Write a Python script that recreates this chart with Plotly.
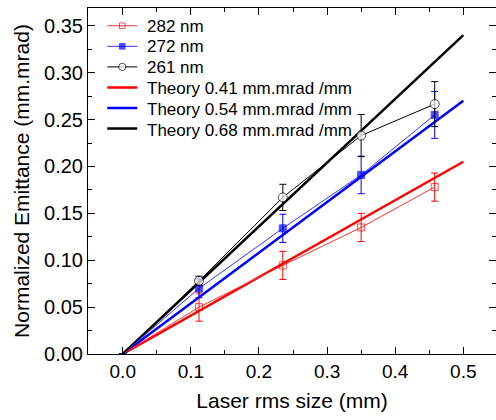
import plotly.graph_objects as go

x_pts = [0.112, 0.235, 0.350, 0.458]
y_282 = [0.050, 0.0945, 0.135, 0.178]
e_282 = [0.015, 0.015, 0.015, 0.015]
y_272 = [0.070, 0.134, 0.191, 0.255]
e_272 = [0.010, 0.015, 0.020, 0.025]
y_261 = [0.078, 0.167, 0.233, 0.2665]
e_261 = [0.005, 0.014, 0.0225, 0.024]

theory_x = [0.0, 0.5]
slopes = [0.41, 0.54, 0.68]
theory_names = ["Theory 0.41 mm.mrad /mm", "Theory 0.54 mm.mrad /mm", "Theory 0.68 mm.mrad /mm"]
theory_colors = ["#ff0000", "#0000ff", "#000000"]
series_names = ["282 nm", "272 nm", "261 nm"]

font = "Liberation Sans, Arial, sans-serif"
fig = go.Figure()

for i, (s, n, c) in enumerate(zip(slopes, theory_names, theory_colors)):
    fig.add_trace(go.Scatter(
        x=theory_x, y=[s * v for v in theory_x], mode="lines", name=" ",
        hovertext=n, line=dict(color=c, width=2.5), legendrank=10 + i))

series = [
    (y_282, e_282, "#ff0000", "square-open", 7, "#ff3333"),
    (y_272, e_272, "#0000ff", "square", 7, "#3333ff"),
    (y_261, e_261, "#000000", "circle", 9, "#000000"),
]
for i, (y, e, c, sym, sz, lc) in enumerate(series):
    fig.add_trace(go.Scatter(
        x=[0.0] + x_pts, y=[0.0] + y, mode="lines+markers", name=" ",
        hovertext=series_names[i],
        line=dict(color=lc, width=1),
        marker=dict(symbol=sym, size=[0] + [sz] * len(x_pts), color=("white" if sym == "circle" else c),
                    line=dict(color=c, width=1)),
        error_y=dict(type="data", array=[0] + e, color=c, thickness=1, width=3.5),
        legendrank=i + 1))

# legend labels (text placed beside the legend samples)
legend_labels = series_names + theory_names
plot_h = 346
ann = []
for i, t in enumerate(legend_labels):
    ypix = 26 + 20.8 * i
    ann.append(dict(text=t, xref="paper", yref="paper", x=(145 - 88) / 408,
                    y=(354 - ypix) / plot_h, xanchor="left", yanchor="middle",
                    showarrow=False, font=dict(size=17, family=font, color="black")))

fig.update_layout(
    width=496, height=420,
    margin=dict(l=88, r=0, t=8, b=66),
    plot_bgcolor="white", paper_bgcolor="white",
    font=dict(family=font, color="black", size=19),
    showlegend=True,
    legend=dict(x=0.035, y=1.0 - 2.5 / 346, xanchor="left", yanchor="top",
                font=dict(size=13.5), bgcolor="rgba(0,0,0,0)", tracegroupgap=0),
    annotations=ann,
)
fig.update_xaxes(
    range=[-0.051, 0.548], tickvals=[0, 0.1, 0.2, 0.3, 0.4, 0.5],
    ticktext=["0.0", "0.1", "0.2", "0.3", "0.4", "0.5"],
    ticks="inside", ticklen=7, tickcolor="black", showline=True, linecolor="black",
    linewidth=1, mirror="allticks", showgrid=False, zeroline=False,
    minor=dict(tickvals=[0.05, 0.15, 0.25, 0.35, 0.45], ticks="inside", ticklen=4, tickcolor="black"),
    title=dict(text="Laser rms size (mm)", font=dict(size=21), standoff=12),
    tickfont=dict(size=19),
)
fig.update_yaxes(
    range=[0, 0.369], tickvals=[0, 0.05, 0.1, 0.15, 0.2, 0.25, 0.3, 0.35],
    ticktext=["0.00", "0.05", "0.10", "0.15", "0.20", "0.25", "0.30", "0.35"],
    ticks="inside", ticklen=7, tickcolor="black", showline=True, linecolor="black",
    linewidth=1, mirror="allticks", showgrid=False, zeroline=False,
    minor=dict(tickvals=[0.025, 0.075, 0.125, 0.175, 0.225, 0.275, 0.325], ticks="inside", ticklen=4, tickcolor="black"),
    title=dict(text="Normalized Emittance (mm.mrad)", font=dict(size=21), standoff=8),
    tickfont=dict(size=20),
)
fig.write_html("out.html")
